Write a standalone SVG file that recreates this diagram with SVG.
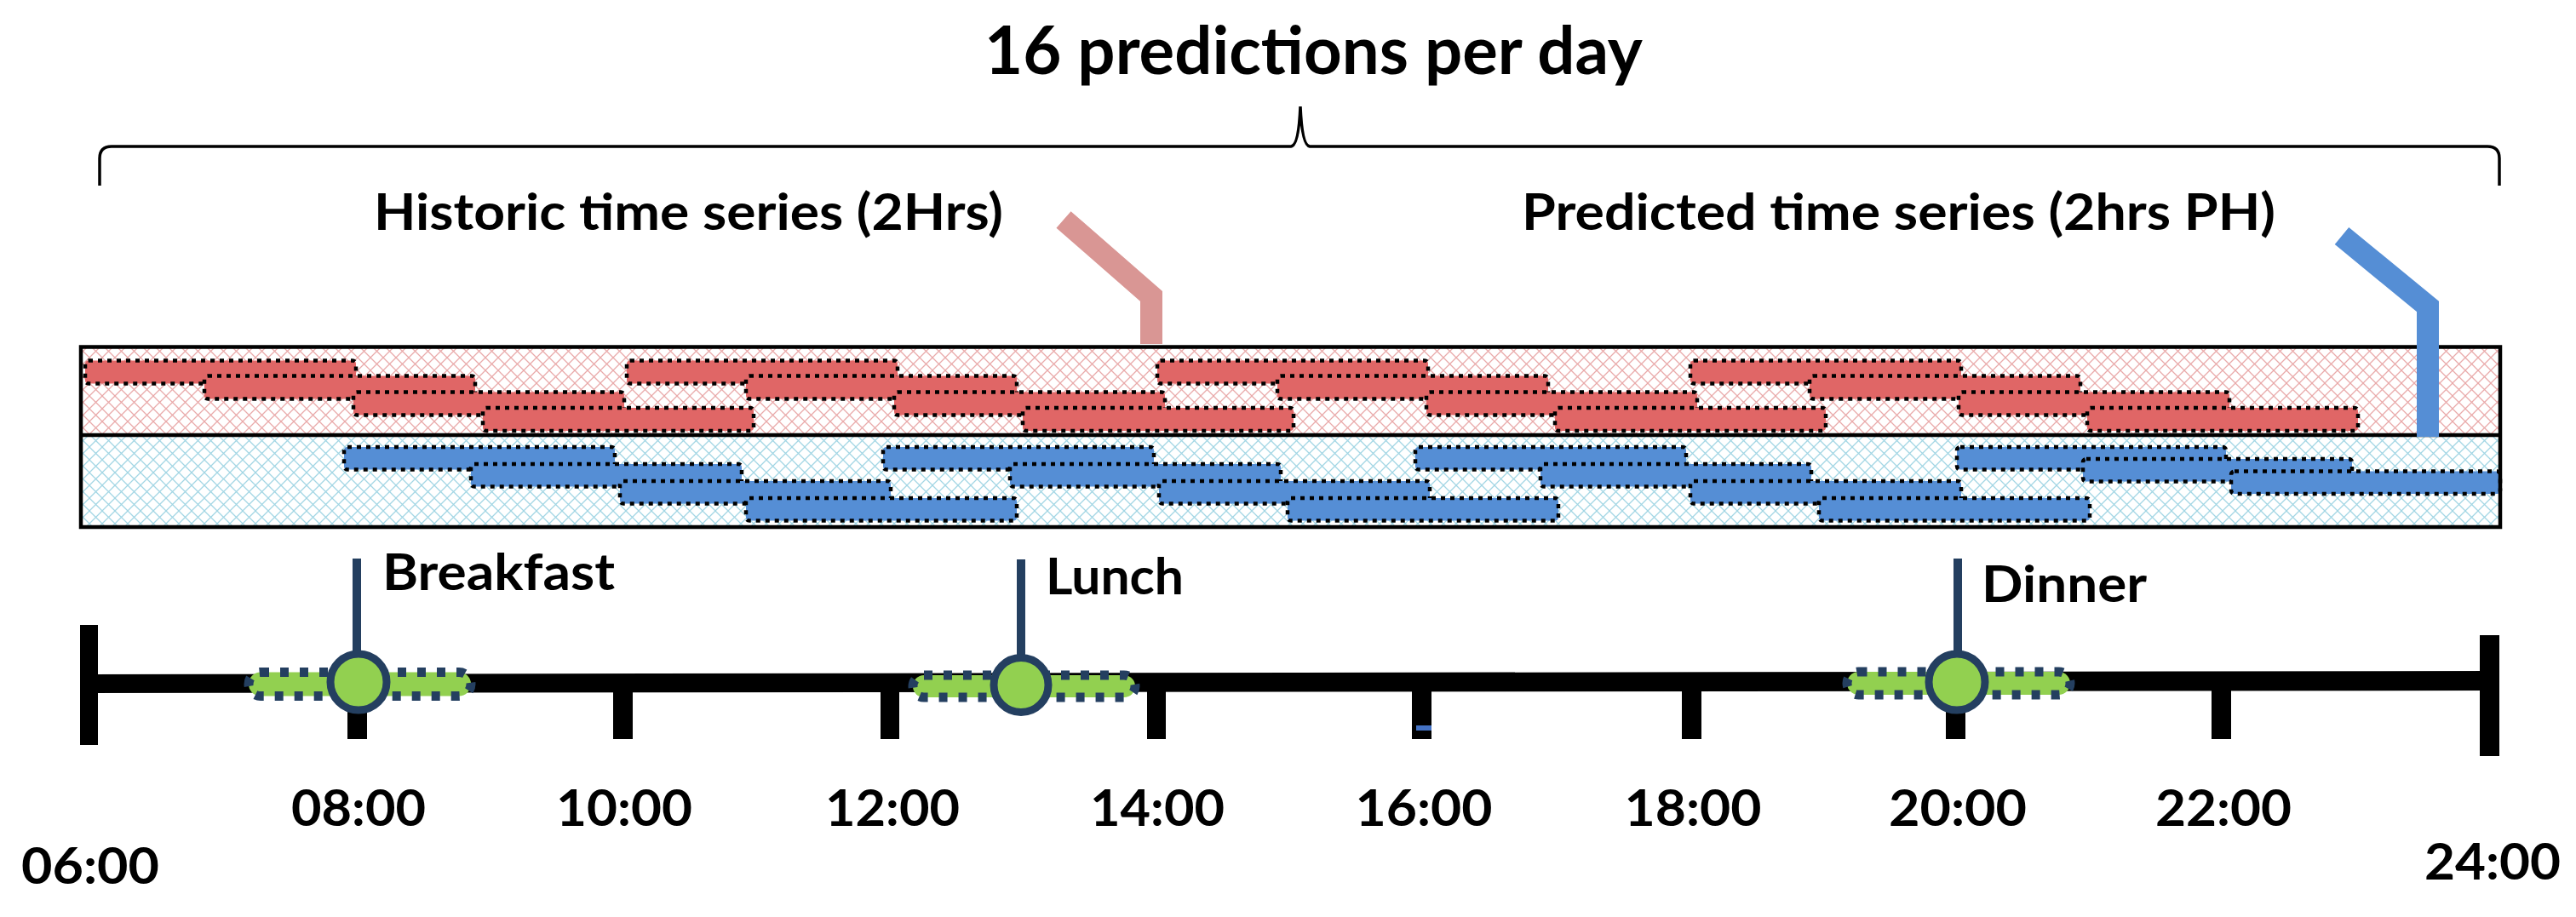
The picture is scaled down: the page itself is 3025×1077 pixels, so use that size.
<svg xmlns="http://www.w3.org/2000/svg" width="3025" height="1077" viewBox="0 0 3025 1077">
<style>
.t{font-family:Lato,"Liberation Sans",sans-serif;font-weight:bold;fill:#000}
.rb{fill:#E06666;stroke:#000;stroke-width:4.5;stroke-dasharray:5 6}
.bb{fill:#558ED5;stroke:#000;stroke-width:4.5;stroke-dasharray:5 6}
.tick{fill:#000}
.meal{fill:#92D050;stroke:#243F60;stroke-width:11;stroke-dasharray:10 13}
.dot{fill:#92D050;stroke:#243F60;stroke-width:9}
.stem{stroke:#243F60;stroke-width:10;fill:none}
</style>
<defs>
<pattern id="hatchR" width="15" height="15" patternUnits="userSpaceOnUse"><path d="M0,0 L15,15 M15,0 L0,15" stroke="#E9AAAA" stroke-width="1.3" fill="none"/></pattern>
<pattern id="hatchB" width="15" height="15" patternUnits="userSpaceOnUse"><path d="M0,0 L15,15 M15,0 L0,15" stroke="#A3D6E4" stroke-width="1.3" fill="none"/></pattern>
</defs>
<rect width="3025" height="1077" fill="#fff"/>

<g id="title">
<text class="t" x="1156" y="87" font-size="78" textLength="773" lengthAdjust="spacingAndGlyphs">16 predictions per day</text>
<path d="M117,218 L117,186 Q117,172 131,172 L1516,172 Q1525,171 1527,125 Q1529,171 1538,172 L2921,172 Q2935,172 2935,186 L2935,218" fill="none" stroke="#000" stroke-width="3.5"/>
</g>

<g id="label-historic"><text class="t" x="439" y="270" font-size="60" textLength="739" lengthAdjust="spacingAndGlyphs">Historic time series (2Hrs)</text></g>
<g id="label-predicted"><text class="t" x="1787" y="270" font-size="60" textLength="885" lengthAdjust="spacingAndGlyphs">Predicted time series (2hrs PH)</text></g>

<g id="series-box">
<rect x="95" y="407.5" width="2841" height="103.5" fill="url(#hatchR)"/>
<rect x="95" y="511" width="2841" height="108" fill="url(#hatchB)"/>
<g id="historic-bars">
<rect class="rb" x="100" y="423.5" width="318" height="27" rx="4"/>
<rect class="rb" x="240" y="441.5" width="318" height="27" rx="4"/>
<rect class="rb" x="415" y="460.5" width="318" height="27" rx="4"/>
<rect class="rb" x="567" y="479" width="318" height="27" rx="4"/>
<rect class="rb" x="736" y="423.5" width="318" height="27" rx="4"/>
<rect class="rb" x="876" y="441.5" width="318" height="27" rx="4"/>
<rect class="rb" x="1050" y="460.5" width="318" height="27" rx="4"/>
<rect class="rb" x="1201" y="479" width="318" height="27" rx="4"/>
<rect class="rb" x="1359" y="423.5" width="318" height="27" rx="4"/>
<rect class="rb" x="1500" y="441.5" width="318" height="27" rx="4"/>
<rect class="rb" x="1675" y="460.5" width="318" height="27" rx="4"/>
<rect class="rb" x="1826" y="479" width="318" height="27" rx="4"/>
<rect class="rb" x="1985" y="423.5" width="318" height="27" rx="4"/>
<rect class="rb" x="2125" y="441.5" width="318" height="27" rx="4"/>
<rect class="rb" x="2300" y="460.5" width="318" height="27" rx="4"/>
<rect class="rb" x="2451" y="479" width="318" height="27" rx="4"/>
</g>
<g id="predicted-bars">
<rect class="bb" x="404" y="525" width="318" height="26.5" rx="4"/>
<rect class="bb" x="553" y="545" width="318" height="26.5" rx="4"/>
<rect class="bb" x="728" y="565" width="318" height="26.5" rx="4"/>
<rect class="bb" x="876" y="585" width="318" height="26.5" rx="4"/>
<rect class="bb" x="1037" y="525" width="318" height="26.5" rx="4"/>
<rect class="bb" x="1186" y="545" width="318" height="26.5" rx="4"/>
<rect class="bb" x="1361" y="565" width="318" height="26.5" rx="4"/>
<rect class="bb" x="1512" y="585" width="318" height="26.5" rx="4"/>
<rect class="bb" x="1662" y="525" width="318" height="26.5" rx="4"/>
<rect class="bb" x="1809" y="545" width="318" height="26.5" rx="4"/>
<rect class="bb" x="1985" y="565" width="318" height="26.5" rx="4"/>
<rect class="bb" x="2136" y="585" width="318" height="26.5" rx="4"/>
<rect class="bb" x="2298" y="525" width="316" height="26.5" rx="4"/>
<rect class="bb" x="2446" y="539" width="316" height="26.5" rx="4"/>
<rect class="bb" x="2620" y="553.5" width="316" height="26.5" rx="4"/>
</g>
<rect x="95" y="407.5" width="2841" height="211.5" fill="none" stroke="#000" stroke-width="4.5"/>
<line x1="95" y1="511" x2="2936" y2="511" stroke="#000" stroke-width="4.5"/>
</g>

<g id="connectors">
<polyline points="1249,258 1352,348 1352,404" fill="none" stroke="#D99694" stroke-width="26" stroke-linejoin="miter"/>
<polyline points="2750,277 2851,360 2851,513" fill="none" stroke="#558ED5" stroke-width="26" stroke-linejoin="miter"/>
</g>

<g id="timeline">
<path d="M104,792 L2924,788 L2924,811 L104,814 Z" fill="#000"/>
<rect class="tick" x="94" y="734" width="21" height="141"/>
<rect class="tick" x="2912" y="746" width="23" height="142"/>
<rect class="tick" x="408" y="800" width="23" height="68"/>
<rect class="tick" x="720" y="800" width="23" height="68"/>
<rect class="tick" x="1034" y="800" width="22" height="68"/>
<rect class="tick" x="1347" y="800" width="22" height="68"/>
<rect class="tick" x="1658" y="800" width="23" height="68"/>
<rect class="tick" x="1975" y="800" width="23" height="68"/>
<rect class="tick" x="2285" y="800" width="23" height="68"/>
<rect class="tick" x="2597" y="800" width="23" height="68"/>
<rect x="1663" y="852" width="18" height="6" fill="#4472C4"/>
<g font-size="60">
<text class="t" x="106" y="1038" text-anchor="middle" textLength="162" lengthAdjust="spacingAndGlyphs">06:00</text>
<text class="t" x="421" y="970" text-anchor="middle" textLength="158" lengthAdjust="spacingAndGlyphs">08:00</text>
<text class="t" x="733" y="970" text-anchor="middle" textLength="160" lengthAdjust="spacingAndGlyphs">10:00</text>
<text class="t" x="1048" y="970" text-anchor="middle" textLength="158" lengthAdjust="spacingAndGlyphs">12:00</text>
<text class="t" x="1359" y="970" text-anchor="middle" textLength="158" lengthAdjust="spacingAndGlyphs">14:00</text>
<text class="t" x="1672" y="970" text-anchor="middle" textLength="161" lengthAdjust="spacingAndGlyphs">16:00</text>
<text class="t" x="1988" y="970" text-anchor="middle" textLength="161" lengthAdjust="spacingAndGlyphs">18:00</text>
<text class="t" x="2299" y="970" text-anchor="middle" textLength="162" lengthAdjust="spacingAndGlyphs">20:00</text>
<text class="t" x="2611" y="970" text-anchor="middle" textLength="160" lengthAdjust="spacingAndGlyphs">22:00</text>
<text class="t" x="2927" y="1033" text-anchor="middle" textLength="160" lengthAdjust="spacingAndGlyphs">24:00</text>
</g>
</g>

<g id="breakfast">
<line class="stem" x1="419" y1="656" x2="419" y2="770"/>
<rect class="meal" x="292" y="789.5" width="261" height="28" rx="14"/>
<circle class="dot" cx="421" cy="801" r="33"/>
<text class="t" x="449" y="693" font-size="60" textLength="273" lengthAdjust="spacingAndGlyphs">Breakfast</text>
</g>
<g id="lunch">
<line class="stem" x1="1199" y1="657" x2="1199" y2="772"/>
<rect class="meal" x="1072" y="793" width="261" height="26" rx="13"/>
<circle class="dot" cx="1199" cy="804.5" r="32"/>
<text class="t" x="1228" y="698" font-size="60" textLength="162" lengthAdjust="spacingAndGlyphs">Lunch</text>
</g>
<g id="dinner">
<line class="stem" x1="2299" y1="656" x2="2299" y2="770"/>
<rect class="meal" x="2169" y="789" width="262" height="27" rx="13.5"/>
<circle class="dot" cx="2298" cy="801" r="33"/>
<text class="t" x="2327" y="707" font-size="60" textLength="194" lengthAdjust="spacingAndGlyphs">Dinner</text>
</g>
</svg>
